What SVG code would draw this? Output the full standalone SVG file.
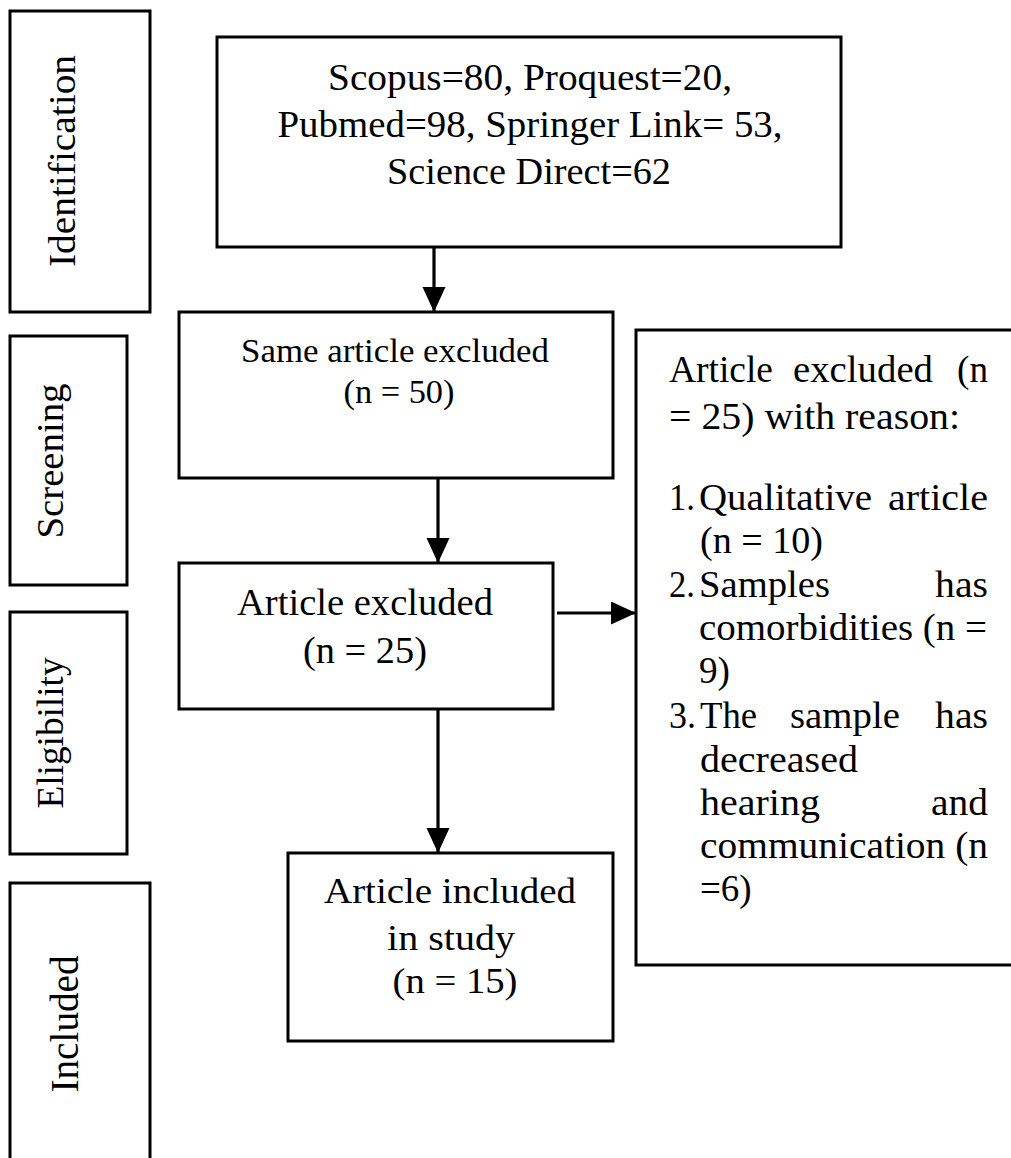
<svg xmlns="http://www.w3.org/2000/svg" width="1011" height="1158" viewBox="0 0 1011 1158">
<style>
rect.box{fill:#fff;stroke:#000;stroke-width:3}
text{font-family:"Liberation Serif","Times New Roman",serif;fill:#000}
.c{text-anchor:middle}
.lbl{font-size:37px;text-anchor:middle}
.t37{font-size:37px}
.t33{font-size:33px}
.t35{font-size:35px}
.conn line{stroke:#000;stroke-width:3.2}
</style>
<defs>
<marker id="ah" markerUnits="userSpaceOnUse" markerWidth="26" markerHeight="24" refX="25" refY="11.5" orient="auto">
<path d="M0,0 L25,11.5 L0,23 z" fill="#000"/>
</marker>
</defs>
<rect width="1011" height="1158" fill="#fff"/>

<g id="stage-identification">
<rect class="box" x="10" y="11" width="140" height="301"/>
<text class="lbl" transform="translate(75,161) rotate(-90)" textLength="212" lengthAdjust="spacingAndGlyphs">Identification</text>
</g>
<g id="stage-screening">
<rect class="box" x="10" y="336" width="117" height="249"/>
<text class="lbl" transform="translate(63,461) rotate(-90)" textLength="155" lengthAdjust="spacingAndGlyphs">Screening</text>
</g>
<g id="stage-eligibility">
<rect class="box" x="10" y="612" width="117" height="242"/>
<text class="lbl" transform="translate(63,733) rotate(-90)" textLength="151" lengthAdjust="spacingAndGlyphs">Eligibility</text>
</g>
<g id="stage-included">
<rect class="box" x="10" y="883" width="140" height="290"/>
<text class="lbl" style="font-size:39px" transform="translate(78,1024) rotate(-90)" textLength="137" lengthAdjust="spacingAndGlyphs">Included</text>
</g>

<g id="node-sources">
<rect class="box" x="217" y="37" width="624" height="210"/>
<text class="t37 c" x="530" y="90" textLength="404" lengthAdjust="spacingAndGlyphs">Scopus=80, Proquest=20,</text>
<text class="t37 c" x="530" y="137" textLength="505" lengthAdjust="spacingAndGlyphs">Pubmed=98, Springer Link= 53,</text>
<text class="t37 c" x="529" y="184" textLength="284" lengthAdjust="spacingAndGlyphs">Science Direct=62</text>
</g>

<g id="node-same">
<rect class="box" x="179" y="312" width="434" height="166"/>
<text class="t33 c" x="395" y="362" textLength="308" lengthAdjust="spacingAndGlyphs">Same article excluded</text>
<text class="t33 c" x="399" y="403" textLength="111" lengthAdjust="spacingAndGlyphs">(n = 50)</text>
</g>

<g id="node-excluded">
<rect class="box" x="179" y="563" width="374" height="146"/>
<text class="t37 c" x="365" y="615" textLength="256" lengthAdjust="spacingAndGlyphs">Article excluded</text>
<text class="t37 c" x="365" y="663" textLength="124" lengthAdjust="spacingAndGlyphs">(n = 25)</text>
</g>

<g id="node-reasons">
<rect class="box" x="636" y="330" width="400" height="635"/>
<g class="t37" lengthAdjust="spacingAndGlyphs">
<text x="669" y="382" textLength="104" lengthAdjust="spacingAndGlyphs">Article</text>
<text x="793" y="382" textLength="140" lengthAdjust="spacingAndGlyphs">excluded</text>
<text x="957" y="382" textLength="31" lengthAdjust="spacingAndGlyphs">(n</text>
<text x="669" y="429" textLength="291" lengthAdjust="spacingAndGlyphs">= 25) with reason:</text>
<text x="669" y="510" textLength="26" lengthAdjust="spacingAndGlyphs">1.</text>
<text x="699" y="510" textLength="173" lengthAdjust="spacingAndGlyphs">Qualitative</text>
<text x="888" y="510" textLength="100" lengthAdjust="spacingAndGlyphs">article</text>
<text x="700" y="553" textLength="123" lengthAdjust="spacingAndGlyphs">(n = 10)</text>
<text x="669" y="597" textLength="26" lengthAdjust="spacingAndGlyphs">2.</text>
<text x="699" y="597" textLength="131" lengthAdjust="spacingAndGlyphs">Samples</text>
<text x="935" y="597" textLength="53" lengthAdjust="spacingAndGlyphs">has</text>
<text x="699" y="640" textLength="288" lengthAdjust="spacingAndGlyphs">comorbidities (n =</text>
<text x="699" y="683" textLength="31" lengthAdjust="spacingAndGlyphs">9)</text>
<text x="669" y="728" textLength="27" lengthAdjust="spacingAndGlyphs">3.</text>
<text x="700" y="728" textLength="57" lengthAdjust="spacingAndGlyphs">The</text>
<text x="790" y="728" textLength="110" lengthAdjust="spacingAndGlyphs">sample</text>
<text x="935" y="728" textLength="53" lengthAdjust="spacingAndGlyphs">has</text>
<text x="700" y="772" textLength="158" lengthAdjust="spacingAndGlyphs">decreased</text>
<text x="700" y="815" textLength="120" lengthAdjust="spacingAndGlyphs">hearing</text>
<text x="931" y="815" textLength="57" lengthAdjust="spacingAndGlyphs">and</text>
<text x="700" y="858" textLength="288" lengthAdjust="spacingAndGlyphs">communication (n</text>
<text x="700" y="901">=6)</text>
</g>
</g>

<g id="node-included-study">
<rect class="box" x="288" y="853" width="325" height="188"/>
<text class="t35 c" x="450" y="903" textLength="252" lengthAdjust="spacingAndGlyphs">Article included</text>
<text class="t35 c" x="451" y="950" textLength="128" lengthAdjust="spacingAndGlyphs">in study</text>
<text class="t35 c" x="455" y="993" textLength="125" lengthAdjust="spacingAndGlyphs">(n = 15)</text>
</g>

<g id="connectors" class="conn">
<line x1="434" y1="247" x2="434" y2="312" marker-end="url(#ah)"/>
<line x1="438" y1="478" x2="438" y2="563" marker-end="url(#ah)"/>
<line x1="557" y1="613" x2="636" y2="613" marker-end="url(#ah)"/>
<line x1="438" y1="709" x2="438" y2="853" marker-end="url(#ah)"/>
</g>
</svg>
